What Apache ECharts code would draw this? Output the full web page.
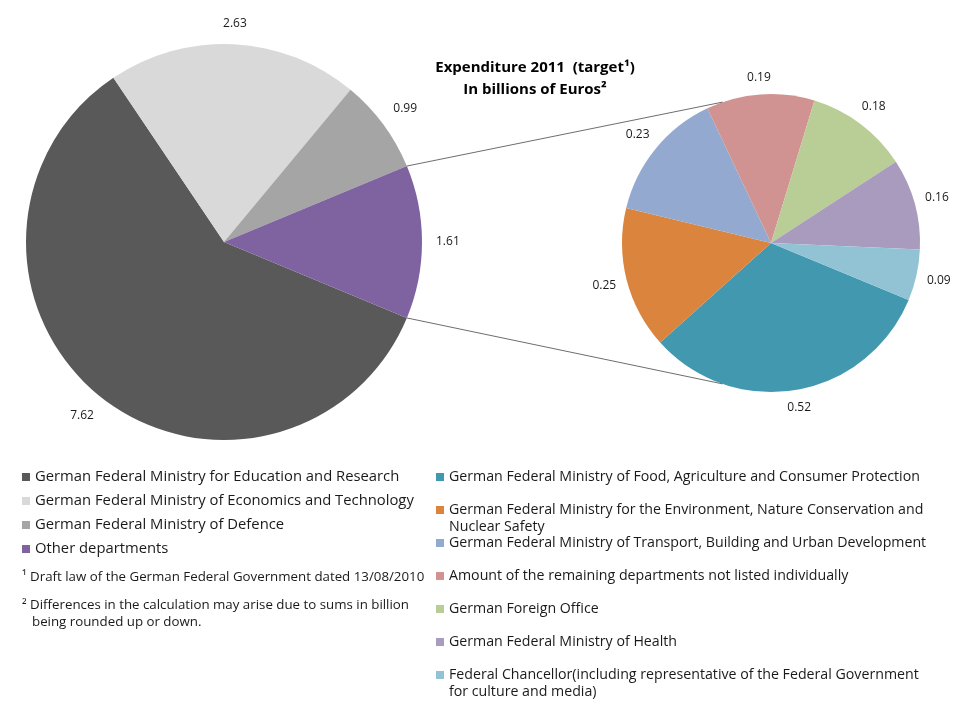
<!DOCTYPE html>
<html>
<head>
<meta charset="utf-8">
<script src="https://cdn.jsdelivr.net/npm/echarts@6/dist/echarts.min.js"></script>
<style>
  html, body { margin: 0; padding: 0; background: #fff; }
  #chart { width: 964px; height: 702px; }
</style>
</head>
<body>
<div id="chart"></div>
<script>
// left pie: federal research expenditure by ministry
const mainNames = [
  'German Federal Ministry for Education and Research',
  'German Federal Ministry of Economics and Technology',
  'German Federal Ministry of Defence',
  'Other departments'
];
const mainValues = [7.62, 2.63, 0.99, 1.61];
const mainColors = ['#595959', '#d9d9d9', '#a5a5a5', '#7f63a1'];

// right pie: breakdown of "Other departments"
const otherNames = [
  'German Federal Ministry of Food, Agriculture and Consumer Protection',
  'German Federal Ministry for the Environment, Nature Conservation and Nuclear Safety',
  'German Federal Ministry of Transport, Building and Urban Development',
  'Amount of the remaining departments not listed individually',
  'German Foreign Office',
  'German Federal Ministry of Health',
  'Federal Chancellor(including representative of the Federal Government for culture and media)'
];
const otherValues = [0.52, 0.25, 0.23, 0.19, 0.18, 0.16, 0.09];
const otherColors = ['#4198af', '#db843d', '#93a9cf', '#d19392', '#b9cd96', '#a99bbd', '#92c3d4'];

const titleLines = ['Expenditure 2011  (target\u00b9)', 'In billions of Euros\u00b2'];
const footnotes = [
  '\u00b9 Draft law of the German Federal Government dated 13/08/2010',
  '\u00b2 Differences in the calculation may arise due to sums in billion',
  'being rounded up or down.'
];

const FONT = '"Open Sans", "Noto Sans", sans-serif';
const leftPie = { cx: 224, cy: 242, r: 198, gap: 14 };
const rightPie = { cx: 771, cy: 243, r: 149, gap: 10 };

const mainTotal = mainValues.reduce((a, b) => a + b, 0);
const otherHalf = mainValues[3] / mainTotal * 180; // "Other" slice is centred on 3 o'clock
const mainStart = 360 - otherHalf;
const rightStart = 337.5;

const toData = (names, values) => names.map((n, i) => ({ name: n, value: values[i] }));

// where the legend text wraps onto a second line; the leading blank line keeps
// the first line level with the marker (legend text is centred on it)
const wrapped = {
  'German Federal Ministry for the Environment, Nature Conservation and Nuclear Safety':
    '\nGerman Federal Ministry for the Environment, Nature Conservation and\nNuclear Safety',
  'Federal Chancellor(including representative of the Federal Government for culture and media)':
    '\nFederal Chancellor(including representative of the Federal Government\nfor culture and media)'
};

function pieSeries(names, values, colors, pie, start) {
  return {
    type: 'pie',
    center: [pie.cx, pie.cy],
    radius: [0, pie.r],
    startAngle: start,
    clockwise: true,
    data: toData(names, values).map((d, i) => ({ ...d, itemStyle: { color: colors[i] } })),
    label: { show: false },
    labelLine: { show: false },
    itemStyle: { borderWidth: 0 },
    emphasis: { disabled: true },
    silent: true
  };
}

// transparent ring carrying the value labels; labelLayout pushes each label
// out so its box edge sits a fixed gap from the pie, as Excel does
function labelRing(names, values, pie, start) {
  return {
    type: 'pie',
    center: [pie.cx, pie.cy],
    radius: [pie.r, pie.r + 36],
    startAngle: start,
    data: toData(names, values),
    itemStyle: { color: 'rgba(0,0,0,0)', borderWidth: 0 },
    label: {
      show: true, position: 'inside', formatter: p => p.value.toFixed(2),
      color: '#1a1a1a', fontSize: 12, fontFamily: FONT
    },
    labelLine: { show: false },
    labelLayout: p => {
      const rc = p.labelRect;
      const lx = rc.x + rc.width / 2, ly = rc.y + rc.height / 2;
      const d = Math.hypot(lx - pie.cx, ly - pie.cy);
      const nx = (lx - pie.cx) / d, ny = (ly - pie.cy) / d;
      const want = pie.r + pie.gap + rc.width / 2 * Math.abs(nx) + 6 * Math.abs(ny);
      return { dx: nx * (want - d), dy: ny * (want - d) };
    },
    avoidLabelOverlap: false,
    emphasis: { disabled: true },
    silent: true
  };
}

// connector lines between the "Other" slice and the breakdown pie
const a = otherHalf * Math.PI / 180;
const b = 109 * Math.PI / 180;
const upper = [leftPie.cx + leftPie.r * Math.cos(a), leftPie.cy - leftPie.r * Math.sin(a),
  rightPie.cx + rightPie.r * Math.cos(b), rightPie.cy - rightPie.r * Math.sin(b)];
const lower = [leftPie.cx + leftPie.r * Math.cos(a), leftPie.cy + leftPie.r * Math.sin(a),
  rightPie.cx + rightPie.r * Math.cos(b), rightPie.cy + rightPie.r * Math.sin(b)];

const legendBase = {
  orient: 'vertical', padding: 0, icon: 'rect', itemWidth: 8, itemHeight: 8,
  selectedMode: false
};
const leftLegend = {
  ...legendBase, data: mainNames, left: 22, top: 468.5, itemGap: 7,
  textStyle: { color: '#1a1a1a', fontSize: 14.8, fontFamily: FONT, lineHeight: 17 }
};
// one legend per entry on the right so that wrapped entries keep the 33px rhythm
const rightLegends = otherNames.map((n, i) => {
  const two = !!wrapped[n];
  return {
    ...legendBase, data: [n], left: 436, top: 477 + i * 33 - (two ? 25.5 : 8.5),
    formatter: t => wrapped[t] || t,
    textStyle: { color: '#1a1a1a', fontSize: 14.2, fontFamily: FONT, lineHeight: 17 }
  };
});

const noteFont = '13.3px ' + FONT;

const option = {
  animation: false,
  backgroundColor: '#fff',
  legend: [leftLegend, ...rightLegends],
  graphic: [
    { type: 'line', shape: { x1: upper[0], y1: upper[1], x2: upper[2], y2: upper[3] },
      style: { stroke: '#6e6e6e', lineWidth: 1 }, z: 10 },
    { type: 'line', shape: { x1: lower[0], y1: lower[1], x2: lower[2], y2: lower[3] },
      style: { stroke: '#6e6e6e', lineWidth: 1 }, z: 10 },
    ...titleLines.map((t, i) => ({
      type: 'text', x: 535, y: 68 + i * 22,
      style: { text: t, align: 'center', verticalAlign: 'middle', fill: '#000',
        font: 'bold 15px ' + FONT }
    })),
    { type: 'text', x: 22, y: 577,
      style: { text: footnotes[0], verticalAlign: 'middle', fill: '#1a1a1a', font: noteFont } },
    { type: 'text', x: 22, y: 605,
      style: { text: footnotes[1], verticalAlign: 'middle', fill: '#1a1a1a', font: noteFont } },
    { type: 'text', x: 32, y: 622,
      style: { text: footnotes[2], verticalAlign: 'middle', fill: '#1a1a1a', font: noteFont } }
  ],
  series: [
    pieSeries(mainNames, mainValues, mainColors, leftPie, mainStart),
    pieSeries(otherNames, otherValues, otherColors, rightPie, rightStart),
    labelRing(mainNames, mainValues, leftPie, mainStart),
    labelRing(otherNames, otherValues, rightPie, rightStart)
  ]
};

const chart = echarts.init(document.getElementById('chart'), null, { renderer: 'canvas' });
chart.setOption(option);
</script>
</body>
</html>
